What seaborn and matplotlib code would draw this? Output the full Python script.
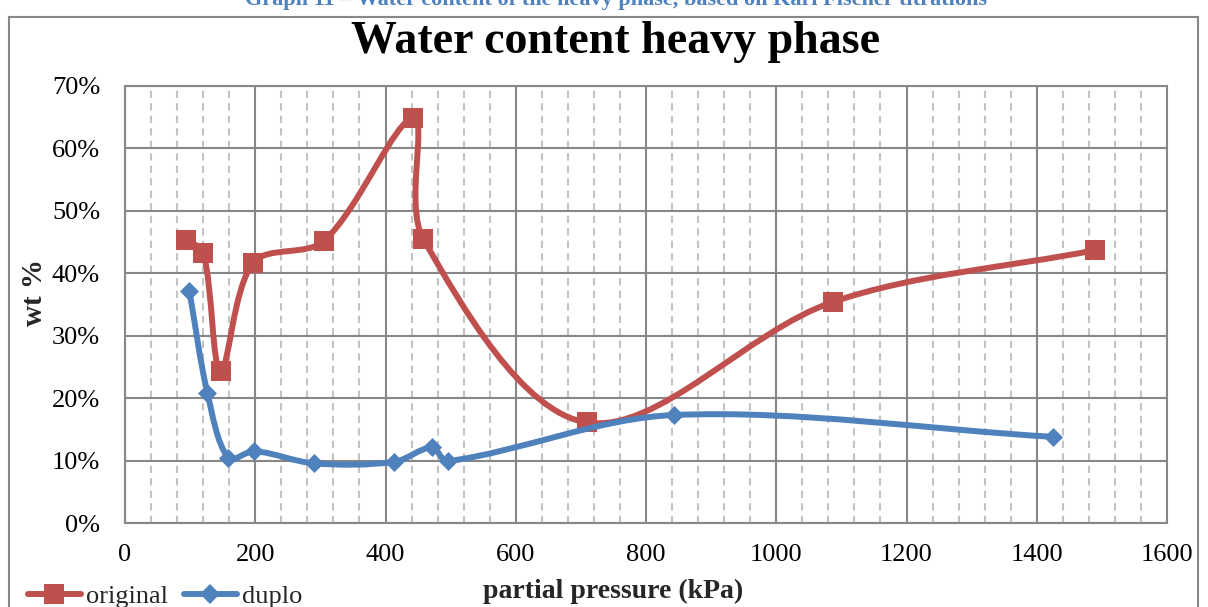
import numpy as np
import pandas as pd
import matplotlib
matplotlib.use("Agg")
import matplotlib.pyplot as plt
import seaborn as sns
from matplotlib.path import Path
from matplotlib.patches import PathPatch, Rectangle
from matplotlib.lines import Line2D
from matplotlib.ticker import MultipleLocator, FuncFormatter

# ---- data ----
original_x = [93.7, 120.3, 146.9, 197.0, 305.6, 442.7, 458.0, 709.0, 1086.7, 1489.5]
original_y = [45.4, 43.3, 24.4, 41.7, 45.2, 64.8, 45.5, 16.1, 35.4, 43.7]
duplo_x = [98.8, 126.4, 158.7, 198.6, 290.7, 413.6, 470.9, 496.0, 843.5, 1425.0]
duplo_y = [37.2, 20.9, 10.4, 11.5, 9.55, 9.8, 12.1, 9.9, 17.3, 13.8]
series_names = ["original", "duplo"]
x_ticks = [0, 200, 400, 600, 800, 1000, 1200, 1400, 1600]
y_ticks = [0, 10, 20, 30, 40, 50, 60, 70]

title = "Water content heavy phase"
caption = "Graph 11 \u2013 Water content of the heavy phase, based on Karl Fischer titrations"
xlabel = "partial pressure (kPa)"
ylabel = "wt %"

RED = "#C0504D"
BLUE = "#4F81BD"
GRID = "#878787"
MINOR = "#C3C3C3"

sns.set_style("white")
plt.rcParams["font.family"] = ["Liberation Serif", "DejaVu Serif"]

W, H = 1208, 607
fig = plt.figure(figsize=(W / 100, H / 100), dpi=100)
ax = fig.add_axes([125 / W, 1 - 523 / H, (1167 - 125) / W, (523 - 86) / H])

ax.set_xlim(x_ticks[0], x_ticks[-1])
ax.set_ylim(y_ticks[0], y_ticks[-1])


def smooth_path(xs, ys):
    """Chord-length scaled Catmull-Rom Bezier (computed in display space)."""
    P = ax.transData.transform(np.column_stack([xs, ys]).astype(float))
    n = len(P)
    verts = [P[0]]
    codes = [Path.MOVETO]

    def dist(a, b):
        return float(np.hypot(*(b - a)))

    for i in range(n - 1):
        p0 = P[i - 1] if i > 0 else P[i]
        p1 = P[i]
        p2 = P[i + 1]
        p3 = P[i + 2] if i + 2 < n else P[i + 1]
        d01, d12, d23 = dist(p0, p1), dist(p1, p2), dist(p2, p3)
        s1 = d12 / (d01 + d12) / 3.0 if (d01 + d12) > 0 else 0
        s2 = d12 / (d12 + d23) / 3.0 if (d12 + d23) > 0 else 0
        c1 = p1 + (p2 - p0) * s1
        c2 = p2 - (p3 - p1) * s2
        verts += [c1, c2, p2]
        codes += [Path.CURVE4] * 3
    verts = ax.transData.inverted().transform(np.array(verts))
    return Path(verts, codes)


LW = 4.3
# original series
ax.add_patch(PathPatch(smooth_path(original_x, original_y), facecolor="none",
                       edgecolor=RED, lw=LW, capstyle="round", joinstyle="round", zorder=2))
sns.scatterplot(x=original_x, y=original_y, marker="s", s=13.7 ** 2, color=RED,
                linewidth=0, ax=ax, zorder=3, legend=False)
# duplo series
ax.add_patch(PathPatch(smooth_path(duplo_x, duplo_y), facecolor="none",
                       edgecolor=BLUE, lw=LW, capstyle="round", joinstyle="round", zorder=4))
sns.scatterplot(x=duplo_x, y=duplo_y, marker="D", s=9.7 ** 2, color=BLUE,
                linewidth=0, ax=ax, zorder=5, legend=False)

ax.set_xlim(x_ticks[0], x_ticks[-1])
ax.set_ylim(y_ticks[0], y_ticks[-1])
ax.set_xticks(x_ticks)
ax.set_yticks(y_ticks)
ax.xaxis.set_minor_locator(MultipleLocator(40))
ax.yaxis.set_major_formatter(FuncFormatter(lambda v, p: f"{v:.0f}%"))
ax.set_axisbelow(True)
ax.grid(which="major", color=GRID, lw=1.5)
ax.grid(which="minor", axis="x", color=MINOR, lw=1.5, ls=(0, (3.5, 2.5)))
ax.tick_params(axis="both", which="both", length=0, labelsize=19, colors="black")
ax.tick_params(axis="x", pad=15)
ax.tick_params(axis="y", pad=18)
for s in ax.spines.values():
    s.set_color(GRID)
    s.set_linewidth(1.5)
ax.set_xlabel("")
ax.set_ylabel("")

# outer chart frame
fig.patches.append(Rectangle((9 / W, -0.1), (1198 - 9) / W, 1 - 17 / H + 0.1,
                             transform=fig.transFigure, fill=False,
                             edgecolor=GRID, lw=1.5, zorder=0))

fig.text(616 / W, 1 - 5 / H, caption, ha="center", va="baseline",
         fontsize=16, fontweight="bold", color=BLUE)
fig.text(616 / W, 1 - 53 / H, title, ha="center", va="baseline",
         fontsize=33, fontweight="bold", color="black")
fig.text(613 / W, 1 - 591 / H, xlabel, ha="center", va="center",
         fontsize=20, fontweight="bold")
fig.text(35 / W, 1 - 293 / H, ylabel, ha="center", va="center", rotation=90,
         fontsize=21, fontweight="bold")

handles = [
    Line2D([], [], color=RED, lw=LW, marker="s", ms=13.7, markeredgewidth=0),
    Line2D([], [], color=BLUE, lw=LW, marker="D", ms=9.7, markeredgewidth=0),
]
fig.legend(handles, series_names, loc="center left", bbox_to_anchor=(28 / W, 11 / H),
           ncol=2, frameon=False, handlelength=2.0, handletextpad=0.2,
           columnspacing=0.6, borderpad=0, borderaxespad=0, fontsize=19)

fig.savefig("out.png", dpi=100, facecolor="white")
